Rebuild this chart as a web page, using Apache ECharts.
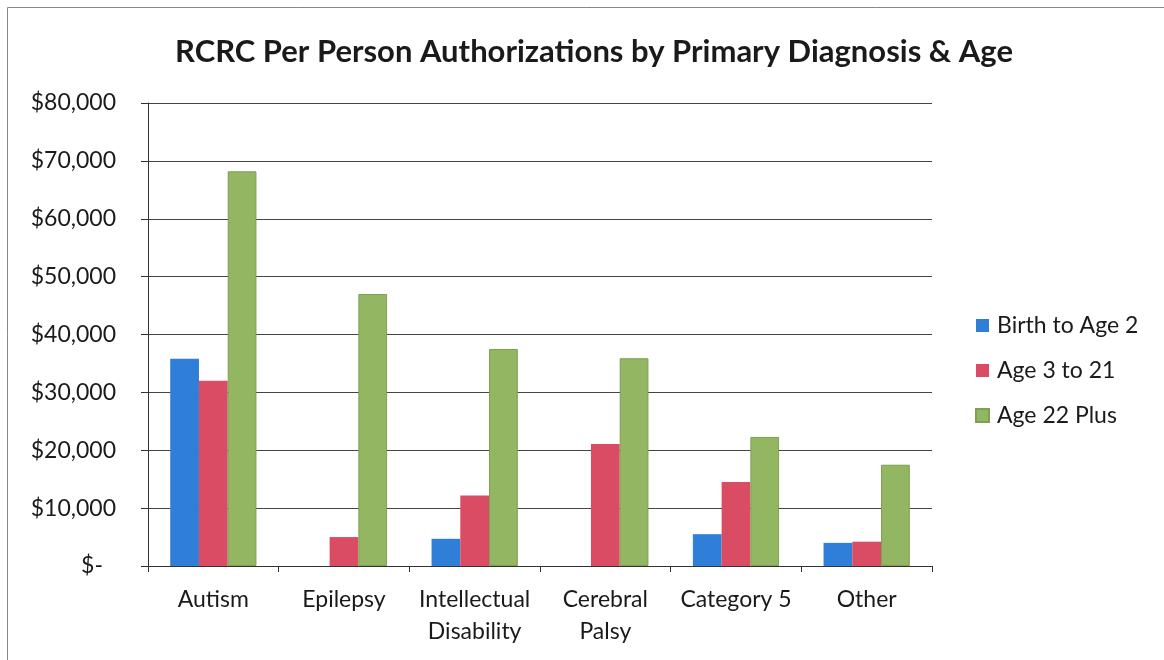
<!DOCTYPE html>
<html><head><meta charset="utf-8">
<script src="https://cdn.jsdelivr.net/npm/echarts@6/dist/echarts.min.js"></script>
<style>html,body{margin:0;padding:0;background:#fff}#c{width:1164px;height:660px}</style>
</head><body><div id="c"></div>
<script>
const categories = ['Autism', 'Epilepsy', 'Intellectual\nDisability', 'Cerebral\nPalsy', 'Category 5', 'Other'];
const birthToAge2 = [35800, 0, 4700, 0, 5500, 4000];
const age3to21 = [32000, 5000, 12200, 21100, 14500, 4200];
const age22Plus = [68200, 47000, 37500, 35900, 22300, 17500];
const seriesNames = ['Birth to Age 2', 'Age 3 to 21', 'Age 22 Plus'];
const titleText = 'RCRC Per Person Authorizations by Primary Diagnosis & Age';

const FONT = 'Lato, "Open Sans", sans-serif';
const chart = echarts.init(document.getElementById('c'));
const colors = ['#2f7ed8', '#d94c63', '#93b663'];
chart.setOption({
  animation: false,
  backgroundColor: '#fff',
  title: {
    text: titleText, left: 589, top: 31, textAlign: 'center',
    textStyle: { fontFamily: FONT, fontSize: 31, fontWeight: 'bold', color: '#1a1a1a' }
  },
  graphic: [{
    type: 'rect', shape: { x: 7.5, y: 7.5, width: 1170, height: 700 },
    style: { fill: 'none', stroke: '#888', lineWidth: 1 }, silent: true
  }],
  legend: {
    orient: 'vertical', left: 970, top: 309, itemGap: 22,
    itemWidth: 13, itemHeight: 13, icon: 'rect',
    textStyle: { fontFamily: FONT, fontSize: 23, color: '#1a1a1a', padding: [0, 0, 0, 3] },
    data: seriesNames
  },
  grid: { left: 148, right: 232, top: 103, bottom: 94, containLabel: false },
  xAxis: {
    type: 'category', data: categories,
    axisLine: { lineStyle: { color: '#333', width: 1 } },
    axisTick: { show: true, length: 6, lineStyle: { color: '#333' } },
    axisLabel: { interval: 0, fontFamily: FONT, fontSize: 23, color: '#1a1a1a', margin: 18, lineHeight: 32 }
  },
  yAxis: {
    type: 'value', min: 0, max: 80000, interval: 10000,
    axisLine: { show: true, lineStyle: { color: '#333' } },
    axisTick: { show: true, length: 7, lineStyle: { color: '#333' } },
    splitLine: { lineStyle: { color: '#444', width: 1 } },
    axisLabel: {
      fontFamily: FONT, fontSize: 23, color: '#1a1a1a', margin: 32,
      formatter: v => v === 0 ? '{z|$-}' : '$' + v.toLocaleString('en-US'),
      rich: { z: { fontFamily: FONT, fontSize: 23, color: '#1a1a1a', padding: [0, 13, 0, 0] } }
    }
  },
  series: [
    { name: seriesNames[0], type: 'bar', data: birthToAge2, barGap: '0%', barCategoryGap: '34%', itemStyle: { color: colors[0] } },
    { name: seriesNames[1], type: 'bar', data: age3to21, barGap: '0%', barCategoryGap: '34%', itemStyle: { color: colors[1] } },
    { name: seriesNames[2], type: 'bar', data: age22Plus, barGap: '0%', barCategoryGap: '34%', itemStyle: { color: colors[2], borderColor: '#7f9f52', borderWidth: 1 } }
  ]
});
</script></body></html>
